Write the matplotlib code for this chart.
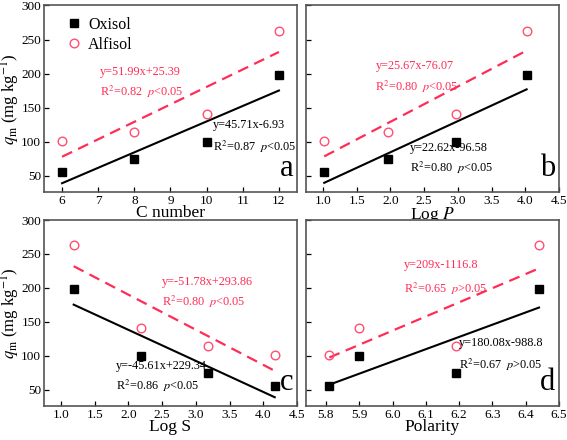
import numpy as np
import matplotlib
matplotlib.use("Agg")
import matplotlib.pyplot as plt

plt.rcParams['font.family'] = ['Liberation Serif', 'DejaVu Serif']
plt.rcParams['mathtext.fontset'] = 'stix'

# ---- data ----
c_number = [6, 8, 10, 12]
log_p = [1.02, 1.97, 2.97, 4.02]
log_s = [1.19, 2.19, 3.18, 4.17]
polarity = [5.81, 5.90, 6.19, 6.44]

oxisol_a = [55, 75, 100, 198]
alfisol_a = [101, 114, 141, 263]
oxisol_b = [55, 75, 100, 198]
alfisol_b = [101, 114, 141, 263]
oxisol_c = [198, 100, 75, 55]
alfisol_c = [263, 141, 114, 101]
oxisol_d = [55, 100, 75, 198]
alfisol_d = [101, 141, 114, 263]

xlabels = ["C number", r"Log $P$", "Log S", "Polarity"]
letters = ["a", "b", "c", "d"]
xlims = [(5.5, 12.5), (0.75, 4.5), (0.75, 4.5), (5.74, 6.5)]
xticks = [list(range(6, 13)),
          [1.0, 1.5, 2.0, 2.5, 3.0, 3.5, 4.0, 4.5],
          [1.0, 1.5, 2.0, 2.5, 3.0, 3.5, 4.0, 4.5],
          [5.8, 5.9, 6.0, 6.1, 6.2, 6.3, 6.4, 6.5]]
yticks = [50, 100, 150, 200, 250, 300]

red_eq = ["y=51.99x+25.39", "y=25.67x-76.07", "y=-51.78x+293.86", "y=209x-1116.8"]
red_r2 = [r"R$^2$=0.82  $p$<0.05", r"R$^2$=0.80  $p$<0.05", r"R$^2$=0.80  $p$<0.05", r"R$^2$=0.65  $p$>0.05"]
blk_eq = ["y=45.71x-6.93", "y=22.62x-96.58", "y=-45.61x+229.34", "y=180.08x-988.8"]
blk_r2 = [r"R$^2$=0.87  $p$<0.05", r"R$^2$=0.80  $p$<0.05", r"R$^2$=0.86  $p$<0.05", r"R$^2$=0.67  $p$>0.05"]
red_pos = [(7.05, 203, 173), (1.78, 211, 181), (2.50, 208, 179), (6.034, 233, 199)]
blk_pos = [(10.17, 125, 93), (2.29, 90, 62), (1.81, 85, 56), (6.20, 119, 86)]

xs = [c_number, log_p, log_s, polarity]
oxs = [oxisol_a, oxisol_b, oxisol_c, oxisol_d]
als = [alfisol_a, alfisol_b, alfisol_c, alfisol_d]

RED = '#FF2D55'
PINK = '#FF4F70'
SPINE = '#555555'

fig = plt.figure(figsize=(5.67, 4.40), dpi=100)
L1, R1, L2, R2 = 44/567, 297/567, 306/567, 559/567
T1, B1, T2, B2 = 1 - 5.5/440, 1 - 192/440, 1 - 220/440, 1 - 406/440
rects = [(L1, B1, R1 - L1, T1 - B1), (L2, B1, R2 - L2, T1 - B1),
         (L1, B2, R1 - L1, T2 - B2), (L2, B2, R2 - L2, T2 - B2)]

for i in range(4):
    ax = fig.add_axes(rects[i])
    x = np.array(xs[i], dtype=float)
    yo = np.array(oxs[i], dtype=float)
    ya = np.array(als[i], dtype=float)
    # fitted lines
    po = np.polyfit(x, yo, 1)
    pa = np.polyfit(x, ya, 1)
    xl = np.array([x.min(), x.max()])
    ax.plot(xl, np.polyval(po, xl), color='black', lw=1.5, zorder=2)
    ax.plot(xl, np.polyval(pa, xl), color=RED, lw=1.6, ls=(0, (5, 3)), zorder=2)
    ax.plot(x, yo, 's', color='black', ms=5.2, zorder=3, label='Oxisol')
    ax.plot(x, ya, 'o', mfc='none', mec=PINK, mew=1.0, ms=6.2, zorder=3, label='Alfisol')

    ax.set_xlim(*xlims[i])
    ax.set_ylim(26, 300)
    ax.set_xticks(xticks[i])
    if i in (1, 2, 3):
        ax.set_xticklabels([f"{t:.1f}" for t in xticks[i]])
    ax.set_yticks(yticks)
    ax.tick_params(direction='in', length=3.5, width=0.9, labelsize=9.5, pad=2, colors='black')
    if i in (1, 3):
        ax.set_yticklabels([])
    else:
        ax.set_ylabel(r"$q_{\rm m}$ (mg kg$^{-1}$)", fontsize=12)
        ax.yaxis.set_label_coords(-0.085, 0.5)
    ax.set_xlabel(xlabels[i], fontsize=12.5, labelpad=-1)
    for s in ax.spines.values():
        s.set_color(SPINE)
        s.set_linewidth(1.2)

    rx, ry1, ry2 = red_pos[i]
    ax.text(rx, ry1, red_eq[i], color=RED, fontsize=8.8, va='center', ha='left')
    ax.text(rx, ry2, red_r2[i], color=RED, fontsize=8.8, va='center', ha='left')
    bx, by1, by2 = blk_pos[i]
    ax.text(bx, by1, blk_eq[i], color='black', fontsize=8.8, va='center', ha='left')
    ax.text(bx, by2, blk_r2[i], color='black', fontsize=8.8, va='center', ha='left')

    ax.text(0.985, 0.05, letters[i], transform=ax.transAxes, fontsize=22,
            ha='right', va='bottom')

    if i == 0:
        ax.legend(loc='upper left', frameon=False, fontsize=11.5, handletextpad=0.3,
                  borderaxespad=0.3, handlelength=1.2, labelspacing=0.25,
                  bbox_to_anchor=(0.035, 1.0))

fig.savefig("out.png", dpi=100)
